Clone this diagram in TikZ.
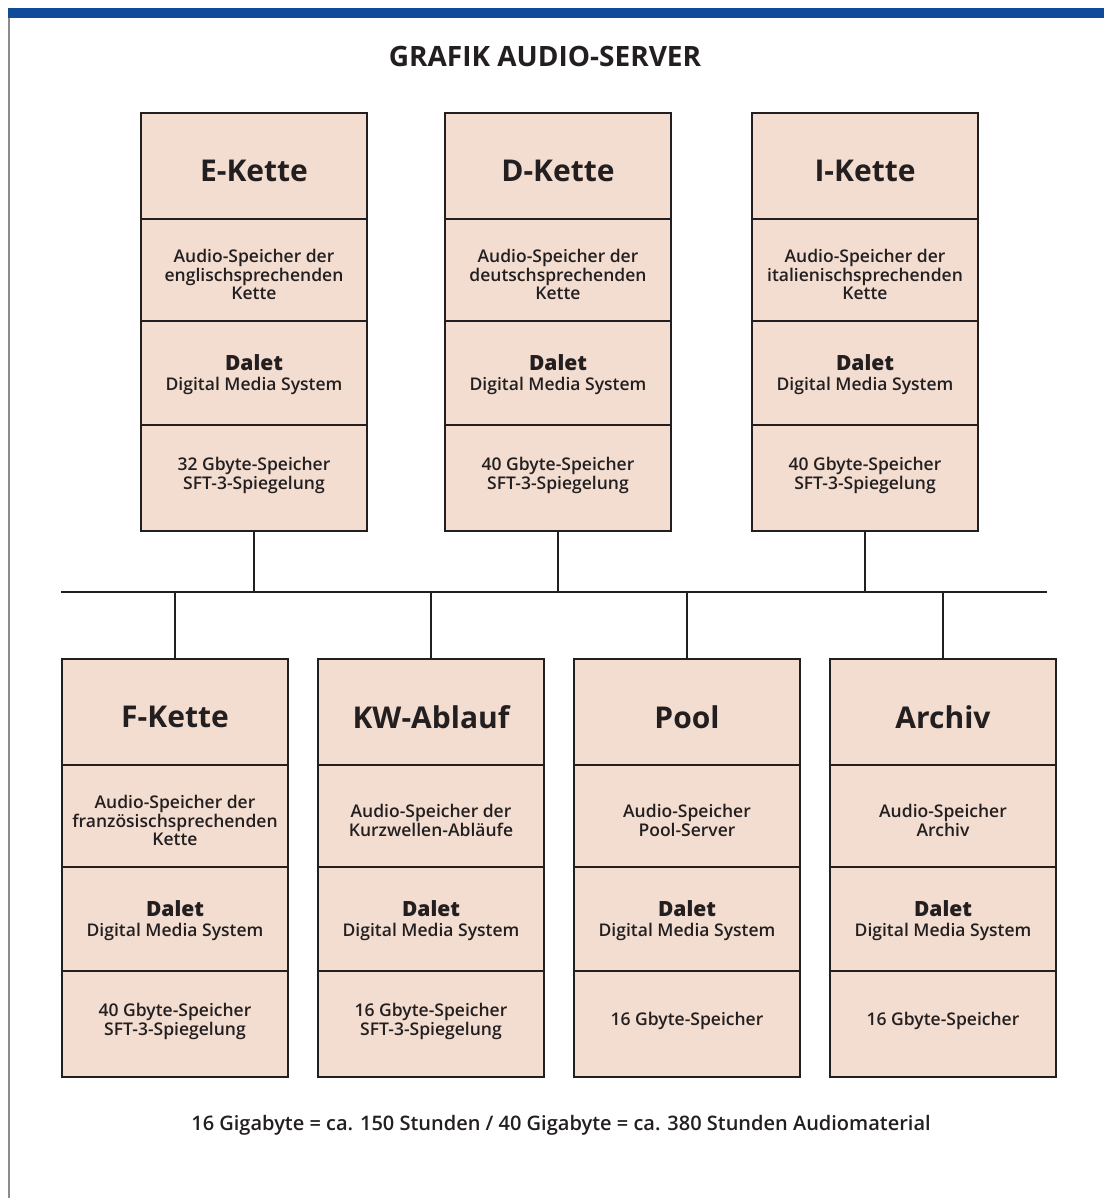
\documentclass[tikz,border=0pt]{standalone}
\usepackage{fontspec}
\setmainfont{Open Sans}
\IfFontExistsTF{Open Sans SemiBold}{\newfontfamily\semib{Open Sans SemiBold}}{%
  \IfFontExistsTF{Open Sans Semibold}{\newfontfamily\semib{Open Sans Semibold}}{%
    \newfontfamily\semib{Open Sans}[FakeBold=2.5]}}
\IfFontExistsTF{Open Sans ExtraBold}{\newfontfamily\heavyb{Open Sans ExtraBold}}{%
  \IfFontExistsTF{Open Sans Extrabold}{\newfontfamily\heavyb{Open Sans Extrabold}}{%
    \newfontfamily\heavyb{Open Sans Bold}[FakeBold=3]}}
\definecolor{boxfill}{RGB}{242,221,208}
\definecolor{barblue}{RGB}{16,74,152}
\definecolor{ink}{RGB}{35,31,32}
\newcommand\lowered[2]{\raisebox{-#1}[\height][\depth]{#2}}
\newcommand\chainbox[6]{%
  \node[cell, minimum height=106pt, headtxt] (#1a) at (#2,#3) {\lowered{5pt}{#4}};
  \node[cell, minimum height=102pt, bodytxt] (#1b) at (#1a.south west) {\lowered{7pt}{\begin{tabular}{@{}c@{}}#5\end{tabular}}};
  \node[cell, minimum height=104pt, bodytxt] (#1c) at (#1b.south west) {\lowered{2pt}{\begin{tabular}{@{}c@{}}{\heavyb\fontsize{21}{23}\selectfont Dalet}\\[1pt]Digital Media System\end{tabular}}};
  \node[cell, minimum height=106pt, bodytxt] (#1d) at (#1c.south west) {\lowered{-2pt}{\begin{tabular}{@{}c@{}}#6\end{tabular}}};
}
\begin{document}
\begin{tikzpicture}[x=1pt,y=-1pt,
  cell/.style={draw=ink, fill=boxfill, line width=2.2pt, minimum width=226pt,
    inner sep=0pt, outer sep=0pt, anchor=north west, align=center, text=ink},
  headtxt/.style={font=\fontsize{30}{32}\selectfont\bfseries},
  bodytxt/.style={font=\semib\fontsize{17.5}{18.5}\selectfont},
  link/.style={draw=ink, line width=2pt}]
\useasboundingbox (0,0) rectangle (1104,1198);
\fill[white] (0,0) rectangle (1104,1198);
\fill[barblue] (8,8) rectangle (1104,18);
\draw[black!45, line width=1.2pt] (9,18) -- (9,1198);

\node[font=\fontsize{28}{30}\selectfont\bfseries, text=ink] (title) at (545,56) {GRAFIK AUDIO-SERVER};

\chainbox{E}{141}{113}{E-Kette}{Audio-Speicher der\\englischsprechenden\\Kette}{32 Gbyte-Speicher\\SFT-3-Spiegelung}
\chainbox{D}{445}{113}{D-Kette}{Audio-Speicher der\\deutschsprechenden\\Kette}{40 Gbyte-Speicher\\SFT-3-Spiegelung}
\chainbox{I}{752}{113}{I-Kette}{Audio-Speicher der\\italienischsprechenden\\Kette}{40 Gbyte-Speicher\\SFT-3-Spiegelung}

\chainbox{F}{62}{659}{F-Kette}{Audio-Speicher der\\französischsprechenden\\Kette}{40 Gbyte-Speicher\\SFT-3-Spiegelung}
\chainbox{K}{318}{659}{KW-Ablauf}{Audio-Speicher der\\Kurzwellen-Abläufe}{16 Gbyte-Speicher\\SFT-3-Spiegelung}
\chainbox{P}{574}{659}{Pool}{Audio-Speicher\\Pool-Server}{16 Gbyte-Speicher}
\chainbox{R}{830}{659}{Archiv}{Audio-Speicher\\Archiv}{16 Gbyte-Speicher}

\coordinate (busL) at (61,592);
\coordinate (busR) at (1047,592);
\draw[link] (busL) -- (busR);
\foreach \n in {E,D,I} { \draw[link] (\n d.south) -- (\n d.south |- busL); }
\foreach \n in {F,K,P,R} { \draw[link] (\n a.north) -- (\n a.north |- busL); }

\node[font=\semib\fontsize{20}{22}\selectfont, text=ink] (note) at (561,1125)
  {16 Gigabyte = ca. 150 Stunden / 40 Gigabyte = ca. 380 Stunden Audiomaterial};
\end{tikzpicture}
\end{document}
